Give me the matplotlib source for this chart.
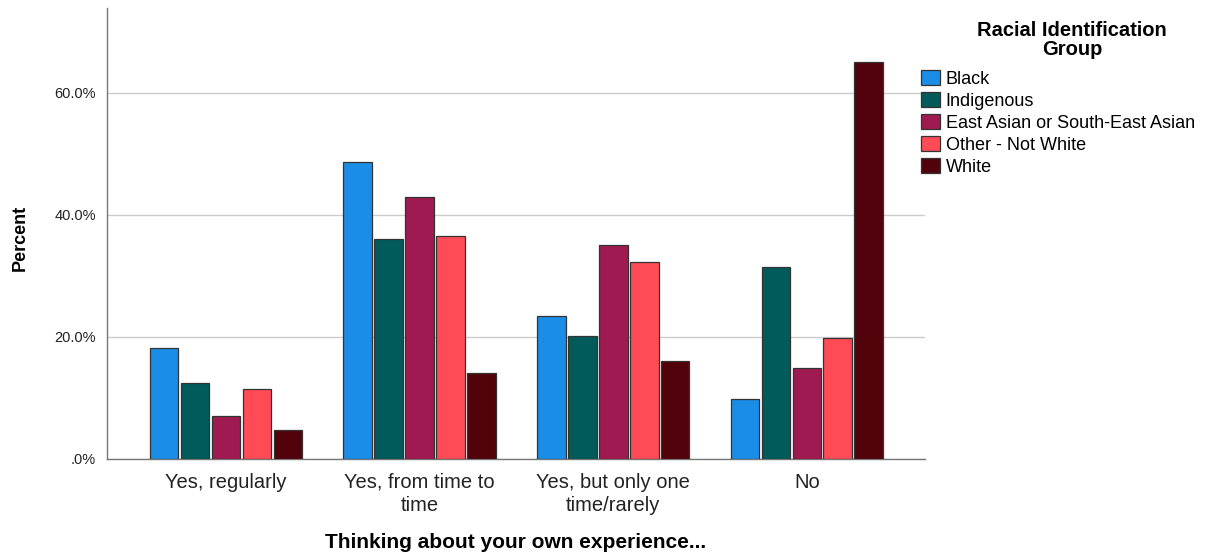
import numpy as np
import matplotlib.pyplot as plt

plt.rcParams['font.family'] = ['Liberation Sans', 'DejaVu Sans']

categories = ["Yes, regularly", "Yes, from time to\ntime",
              "Yes, but only one\ntime/rarely", "No"]
groups = ["Black", "Indigenous", "East Asian or South-East Asian",
          "Other - Not White", "White"]

black = [18.2, 48.6, 23.4, 9.8]
indigenous = [12.4, 36.1, 20.2, 31.4]
east_asian = [7.0, 42.9, 35.1, 14.9]
other = [11.4, 36.6, 32.3, 19.8]
white = [4.8, 14.1, 16.1, 65.0]

colors = ["#1a8de6", "#015b5b", "#9e1a50", "#ff4b55", "#52020a"]

series = [black, indigenous, east_asian, other, white]

fig = plt.figure(figsize=(12.3, 5.54), dpi=100)
ax = fig.add_axes([0.087, 0.1715, 0.665, 0.814])

x = np.arange(len(categories))
step = 0.16
for i, (vals, name) in enumerate(zip(series, groups)):
    ax.bar(x + (i - 2) * step, vals, width=0.148, color=colors[i],
           edgecolor="#333333", linewidth=0.9, label=name, zorder=3)

ax.set_xlim(-0.614, 3.61)
ax.set_ylim(0, 73.9)
ax.set_yticks([0, 20, 40, 60])
ax.set_yticklabels([".0%", "20.0%", "40.0%", "60.0%"], fontsize=10.5)
ax.set_xticks(x)
ax.set_xticklabels(categories, fontsize=14.5, linespacing=1.25)
ax.tick_params(axis="y", length=0, pad=8, colors="#222222")
ax.tick_params(axis="x", length=0, pad=10, colors="#222222")
ax.grid(axis="y", color="#cccccc", linewidth=1, zorder=0)

for s in ["top", "right"]:
    ax.spines[s].set_visible(False)
for s in ["left", "bottom"]:
    ax.spines[s].set_color("#777777")
    ax.spines[s].set_linewidth(1)

# axis titles placed in figure coordinates
fig.text(20 / 1230, 1 - 238 / 554, "Percent", rotation=90, fontsize=13,
         fontweight="bold", ha="center", va="center")
fig.text(0.4195, 1 - 543 / 554, "Thinking about your own experience...",
         fontsize=15, fontweight="bold", ha="center", va="center")

# legend title drawn separately so the gap to the entries can be set
fig.text(1072 / 1230, 1 - 40 / 554, "Racial Identification\nGroup",
         fontsize=14.5, fontweight="bold", ha="center", va="center",
         multialignment="center", linespacing=1.05)

leg = fig.legend(loc="upper left", bbox_to_anchor=(0.749, 0.874),
                 fontsize=13, frameon=False, handlelength=1.05,
                 handleheight=0.95, handletextpad=0.3, labelspacing=0.22,
                 borderaxespad=0, borderpad=0)

fig.savefig("out.png", dpi=100)
